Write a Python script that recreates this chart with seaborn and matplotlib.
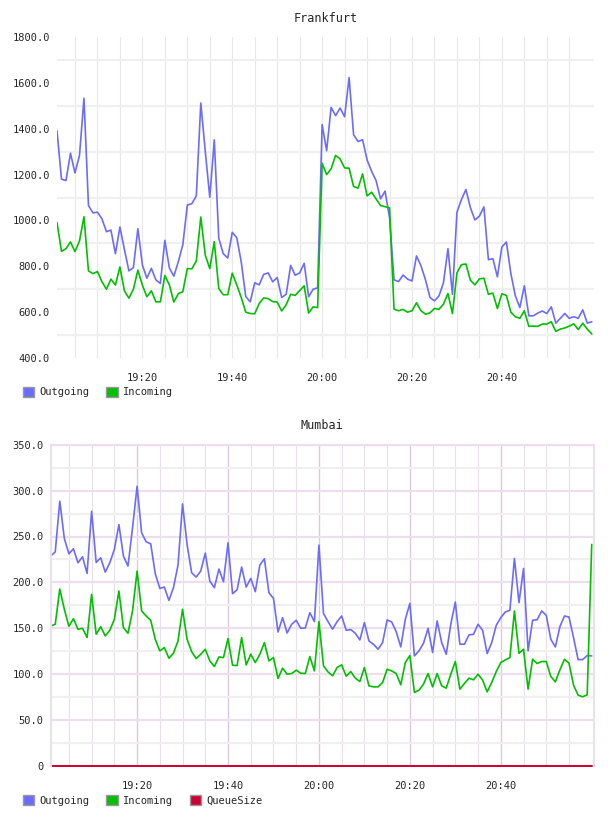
import matplotlib
matplotlib.use('Agg')
import matplotlib.pyplot as plt
import matplotlib.dates as mdates
from matplotlib.patches import Patch
from matplotlib.ticker import FixedLocator, MultipleLocator
import seaborn as sns
import pandas as pd

# one sample per minute, 19:01 .. 21:00
times = pd.date_range('2024-01-01 19:01', periods=120, freq='min')

frankfurt_outgoing = [
    1391, 1180, 1174, 1293, 1207, 1283, 1533, 1065, 1033, 1036,
    1007, 951, 958, 855, 971, 874, 780, 794, 964, 806,
    748, 791, 741, 725, 913, 793, 757, 820, 894, 1067,
    1073, 1107, 1512, 1300, 1101, 1351, 922, 855, 836, 948,
    925, 819, 668, 645, 728, 719, 765, 771, 732, 751,
    664, 678, 804, 761, 771, 813, 667, 700, 706, 1418,
    1304, 1493, 1457, 1490, 1452, 1623, 1374, 1344, 1352, 1264,
    1215, 1174, 1094, 1128, 1012, 741, 733, 762, 744, 736,
    845, 802, 741, 664, 649, 671, 728, 877, 678, 1036,
    1091, 1135, 1055, 1002, 1019, 1059, 829, 833, 754, 884,
    906, 768, 671, 620, 715, 584, 584, 596, 605, 594,
    623, 552, 573, 594, 573, 580, 573, 610, 552, 558,
]
frankfurt_incoming = [
    991, 865, 877, 906, 864, 910, 1016, 780, 768, 777,
    733, 700, 744, 718, 797, 693, 661, 700, 783, 718,
    667, 693, 645, 645, 760, 719, 644, 681, 689, 790,
    789, 823, 1015, 848, 790, 907, 703, 676, 676, 770,
    719, 664, 600, 594, 593, 638, 662, 659, 646, 644,
    605, 632, 678, 673, 694, 715, 596, 623, 620, 1249,
    1200, 1225, 1284, 1268, 1229, 1228, 1148, 1141, 1203, 1107,
    1123, 1094, 1065, 1060, 1055, 613, 606, 612, 600, 606,
    641, 606, 591, 597, 616, 612, 635, 681, 594, 771,
    807, 810, 739, 719, 745, 748, 678, 683, 616, 680,
    673, 600, 580, 573, 606, 538, 539, 538, 548, 548,
    558, 516, 526, 531, 539, 549, 524, 552, 526, 505,
]

mumbai_outgoing = [
    228.6, 233.3, 288.4, 247.8, 231.2, 236.6, 221.4, 227.9, 209.8, 277.5,
    221.7, 226.8, 211.2, 221.4, 235.9, 263.0, 228.6, 217.8, 259.4, 304.7,
    254.0, 244.2, 242.0, 209.4, 193.5, 194.9, 180.4, 194.2, 218.8, 285.5,
    241.3, 210.5, 205.8, 212.3, 231.9, 201.5, 194.2, 214.5, 200.7, 243.1,
    187.7, 192.0, 216.7, 194.9, 204.4, 189.9, 218.8, 225.7, 188.8, 182.6,
    146.0, 161.6, 144.9, 154.4, 158.7, 150.0, 150.4, 167.0, 157.3, 240.6,
    166.0, 157.3, 149.0, 157.3, 163.4, 147.8, 148.6, 144.6, 137.3, 156.2,
    136.2, 132.6, 127.2, 134.4, 159.1, 156.9, 146.3, 129.7, 159.8, 177.2,
    119.9, 125.4, 133.7, 150.0, 123.6, 158.0, 134.4, 121.7, 154.4, 178.6,
    132.6, 132.6, 142.8, 143.5, 154.4, 147.8, 122.5, 134.4, 153.3, 161.6,
    167.8, 169.6, 226.1, 177.9, 215.2, 125.4, 158.7, 159.4, 168.9, 164.1,
    138.0, 129.7, 151.8, 163.4, 162.3, 139.9, 115.9, 115.9, 120.3, 119.9,
]
mumbai_incoming = [
    152.5, 154.4, 192.8, 170.7, 152.2, 160.5, 148.9, 150.0, 139.9, 187.0,
    143.5, 151.8, 141.7, 147.8, 159.8, 190.6, 150.7, 144.6, 168.9, 212.3,
    168.9, 163.4, 158.7, 138.0, 125.4, 129.0, 117.4, 122.8, 136.2, 170.7,
    138.0, 124.6, 117.0, 121.7, 127.2, 114.5, 108.3, 118.8, 118.1, 138.8,
    109.8, 109.4, 139.9, 110.1, 121.7, 112.7, 121.7, 134.4, 114.5, 118.1,
    95.3, 106.5, 100.0, 100.7, 104.4, 101.1, 100.7, 119.2, 103.6, 157.3,
    109.1, 102.5, 98.2, 107.3, 110.1, 97.8, 102.9, 95.7, 92.0, 107.3,
    87.3, 86.2, 86.2, 90.9, 105.4, 103.6, 100.7, 88.4, 112.7, 120.3,
    80.1, 82.6, 89.1, 100.7, 86.2, 100.7, 87.3, 84.8, 100.0, 113.8,
    83.7, 89.9, 95.7, 93.9, 100.0, 93.5, 80.8, 90.9, 102.9, 112.7,
    115.6, 118.1, 168.9, 122.8, 127.2, 83.7, 116.3, 111.6, 113.8, 113.8,
    97.5, 91.7, 104.7, 116.3, 112.0, 88.1, 77.2, 75.4, 77.5, 241.3,
]
mumbai_queue = [0] * 120

x_tick_labels = ['19:20', '19:40', '20:00', '20:20', '20:40']
frankfurt_y_ticks = [400, 600, 800, 1000, 1200, 1400, 1600, 1800]
mumbai_y_ticks = [0, 50, 100, 150, 200, 250, 300, 350]
mumbai_y_labels = ['0', '50.0', '100.0', '150.0', '200.0', '250.0', '300.0', '350.0']

BLUE = '#6b6bff'
GREEN = '#00c000'
RED = '#cc0033'
GRID = '#f0f0f0'
PINK = '#eedfee'
PINK_DARK = '#dccadc'

sns.set_style('white')
plt.rcParams['font.family'] = ['DejaVu Sans Mono']
plt.rcParams['font.size'] = 7

fig = plt.figure(figsize=(6.08, 8.16), dpi=100)
ax1 = fig.add_axes([57 / 608, 1 - 358 / 816, 537 / 608, 321 / 816])
ax2 = fig.add_axes([50.7 / 608, 1 - 766 / 816, 543.3 / 608, 321.3 / 816])

day = '2024-01-01 '
major_x = pd.to_datetime([day + t for t in x_tick_labels])
minor_x = pd.date_range(day + '19:05', day + '20:55', freq='5min')
x_left = times[0]
x_right = times[-1] + pd.Timedelta(seconds=30)


def setup_x(ax):
    ax.set_xlim(x_left, x_right)
    ax.xaxis.set_major_locator(FixedLocator(mdates.date2num(major_x)))
    ax.xaxis.set_minor_locator(FixedLocator(mdates.date2num(minor_x)))
    ax.xaxis.set_major_formatter(mdates.DateFormatter('%H:%M'))
    ax.tick_params(axis='both', which='both', length=0, labelsize=7.5)
    ax.tick_params(axis='x', pad=11)
    ax.tick_params(axis='y', pad=5)
    ax.set_xlabel('')
    ax.set_ylabel('')


# Frankfurt
sns.lineplot(x=times, y=frankfurt_outgoing, ax=ax1, color=BLUE, lw=1.2)
sns.lineplot(x=times, y=frankfurt_incoming, ax=ax1, color=GREEN, lw=1.2)
setup_x(ax1)
ax1.set_ylim(400, 1800)
ax1.set_yticks(frankfurt_y_ticks)
ax1.set_yticklabels([f'{v:.1f}' for v in frankfurt_y_ticks])
ax1.yaxis.set_minor_locator(FixedLocator([500, 700, 900, 1100, 1300, 1500, 1700]))
ax1.grid(False)
ax1.grid(which='minor', axis='y', color=GRID, lw=1.6, zorder=0)
ax1.grid(which='both', axis='x', color='#e8e8e8', lw=0.8, zorder=0)
for s in ax1.spines.values():
    s.set_visible(False)
ax1.set_title('Frankfurt', fontsize=8.5, pad=11)

# Mumbai
sns.lineplot(x=times, y=mumbai_outgoing, ax=ax2, color=BLUE, lw=1.2)
sns.lineplot(x=times, y=mumbai_incoming, ax=ax2, color=GREEN, lw=1.2)
sns.lineplot(x=times, y=mumbai_queue, ax=ax2, color=RED, lw=1.4, clip_on=False)
setup_x(ax2)
ax2.set_ylim(0, 350)
ax2.set_yticks(mumbai_y_ticks)
ax2.set_yticklabels(mumbai_y_labels)
ax2.yaxis.set_minor_locator(MultipleLocator(25))
ax2.grid(False)
ax2.grid(which='major', axis='y', color=PINK, lw=1.6, zorder=0)
ax2.grid(which='minor', axis='y', color=GRID, lw=1.6, zorder=0)
ax2.grid(which='major', axis='x', color=PINK_DARK, lw=1, zorder=0)
ax2.grid(which='minor', axis='x', color='#e8e0e8', lw=0.8, zorder=0)
for name, s in ax2.spines.items():
    s.set_color(PINK)
    s.set_linewidth(1.5)
ax2.spines['bottom'].set_visible(False)
ax2.set_title('Mumbai', fontsize=8.5, pad=11)

# legends below each plot
leg_kw = dict(loc='center left', frameon=False, fontsize=7.5, handlelength=1.1,
              handleheight=1.1, handletextpad=0.5, columnspacing=1.6, borderpad=0,
              borderaxespad=0)
fig.legend(handles=[Patch(facecolor=BLUE, edgecolor='#999999', label='Outgoing'),
                    Patch(facecolor=GREEN, edgecolor='#999999', label='Incoming')],
           ncol=2, bbox_to_anchor=(23 / 608, 1 - 392 / 816), **leg_kw)
fig.legend(handles=[Patch(facecolor=BLUE, edgecolor='#999999', label='Outgoing'),
                    Patch(facecolor=GREEN, edgecolor='#999999', label='Incoming'),
                    Patch(facecolor=RED, edgecolor='#999999', label='QueueSize')],
           ncol=3, bbox_to_anchor=(23 / 608, 1 - 800.5 / 816), **leg_kw)

fig.savefig('out.png', dpi=100)
